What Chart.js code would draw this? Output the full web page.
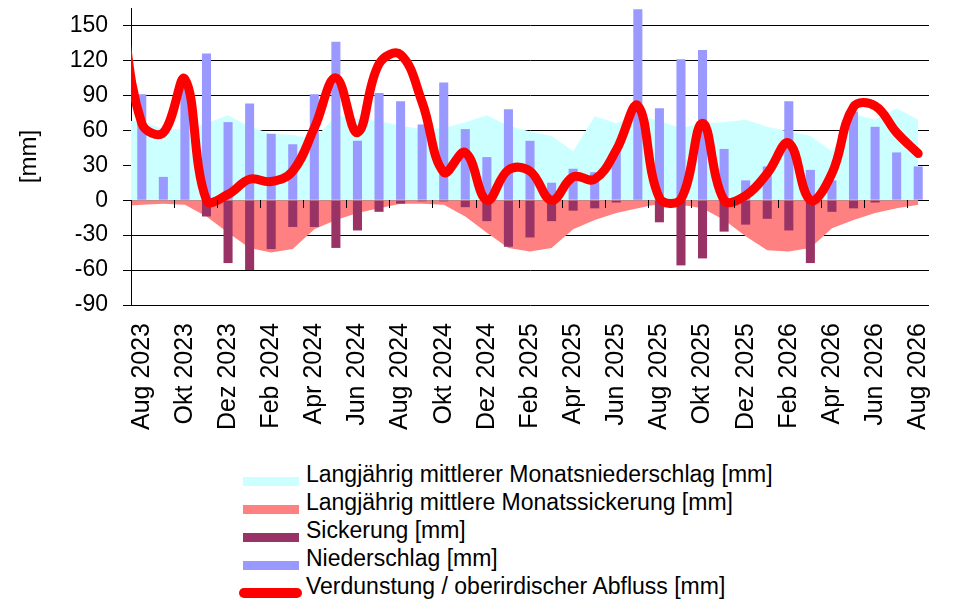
<!DOCTYPE html>
<html lang="de">
<head>
<meta charset="utf-8">
<title>Wasserhaushalt</title>
<script src="https://cdn.jsdelivr.net/npm/chart.js@4.4.1/dist/chart.umd.min.js"></script>
<style>
  html, body { margin: 0; padding: 0; background: #fff; }
  #wrap { position: relative; width: 961px; height: 610px; font-family: "Liberation Sans", Arial, sans-serif; }
  #plot { position: absolute; left: 0; top: 0; width: 961px; height: 460px; }
  #legend { position: absolute; left: 239px; top: 460px; }
  .row { display: flex; align-items: flex-start; height: 28px; }
  .sw { width: 67px; flex: none; }
  .sw span { display: block; }
  .lbl { font-size: 23px; line-height: 28px; color: #000; white-space: nowrap; }
</style>
</head>
<body>
<div id="wrap">
  <div id="plot"><canvas id="chart"></canvas></div>
  <div id="legend"></div>
</div>
<script>
// Monthly categories. "Jul 2023" sits left of the axis start, only the
// curve running in from it is visible (clipped at the y axis).
const MONTHS = [
  "Jul 2023", "Aug 2023", "Sep 2023", "Okt 2023", "Nov 2023", "Dez 2023",
  "Jan 2024", "Feb 2024", "Mär 2024", "Apr 2024", "Mai 2024", "Jun 2024",
  "Jul 2024", "Aug 2024", "Sep 2024", "Okt 2024", "Nov 2024", "Dez 2024",
  "Jan 2025", "Feb 2025", "Mär 2025", "Apr 2025", "Mai 2025", "Jun 2025",
  "Jul 2025", "Aug 2025", "Sep 2025", "Okt 2025", "Nov 2025", "Dez 2025",
  "Jan 2026", "Feb 2026", "Mär 2026", "Apr 2026", "Mai 2026", "Jun 2026",
  "Jul 2026", "Aug 2026"
];
const FIRST_MONTH = "Aug 2023";
const Y_MIN = -90;
const Y_MAX = 165;
const Y_TICKS = [-90, -60, -30, 0, 30, 60, 90, 120, 150];

const MEAN_PRECIP = [68, 68, 61, 61, 66, 73, 63, 57, 56, 52, 73, 70, 68, 64, 61, 62, 67, 73, 64, 59,
  55, 42, 72, 66, 73, 68, 62, 66, 67, 69, 63, 59, 55, 42, 74, 69, 79, 69];
const MEAN_SEEPAGE = [-5, -4, -3, -4, -14, -28, -41, -45, -42, -25, -17, -11, -7, -3, -3, -4, -14, -28, -41, -44,
  -41, -25, -17, -11, -7, -3, -4, -7, -17, -31, -43, -44, -41, -24, -17, -11, -7, -4];
const SEEPAGE = [null, 0, 0, 0, -14, -54, -60, -42, -23, -23, -41, -26, -10, -3, -1, -1, -6, -18, -40, -32,
  -18, -9, -7, -2, 0, -19, -56, -50, -27, -21, -16, -26, -54, -10, -7, -2, 0, 0];
const PRECIP = [null, 91, 20, 98, 126, 67, 83, 57, 48, 91, 136, 51, 92, 85, 65, 101, 61, 37, 78, 51,
  15, 27, 24, 42, 164, 79, 121, 129, 44, 17, 29, 85, 26, 17, 76, 63, 41, 29];
const EVAP_RUNOFF = [172, 66, 58, 104, 0, 5, 18, 16, 25, 62, 105, 58, 117, 125, 84, 24, 41, 0, 26, 25,
  0, 20, 18, 43, 81, 2, 1, 66, 0, 4, 23, 49, 0, 23, 80, 81, 58, 40];

Chart.defaults.font.family = '"Liberation Sans", Arial, sans-serif';
Chart.defaults.color = "#000";

const chart = new Chart(document.getElementById("chart"), {
  data: {
    labels: MONTHS,
    datasets: [
      { type: "line", label: "Langjährig mittlerer Monatsniederschlag [mm]", data: MEAN_PRECIP,
        backgroundColor: "#CCFFFF", borderWidth: 0, pointRadius: 0, fill: "origin", tension: 0, clip: 0, order: 3, xAxisID: "x" },
      { type: "line", label: "Langjährig mittlere Monatssickerung [mm]", data: MEAN_SEEPAGE,
        backgroundColor: "#FF8080", borderWidth: 0, pointRadius: 0, fill: "origin", tension: 0, clip: 0, order: 3, xAxisID: "x" },
      { type: "bar", label: "Sickerung [mm]", data: SEEPAGE, backgroundColor: "#993366",
        stack: "b", barPercentage: 0.42, categoryPercentage: 1, order: 2, xAxisID: "x" },
      { type: "bar", label: "Niederschlag [mm]", data: PRECIP, backgroundColor: "#9999FF",
        stack: "b", barPercentage: 0.42, categoryPercentage: 1, order: 2, xAxisID: "x" },
      { type: "line", label: "Verdunstung / oberirdischer Abfluss [mm]", data: EVAP_RUNOFF,
        borderColor: "#FF0000", backgroundColor: "#FF0000", borderWidth: 9, borderCapStyle: "round",
        borderJoinStyle: "round", pointRadius: 0, fill: false, tension: 0.4, clip: 0, order: 1, xAxisID: "x" },
    ],
  },
  options: {
    responsive: true,
    maintainAspectRatio: false,
    animation: false,
    layout: { padding: { top: 8, right: 32, bottom: 0, left: 0 } },
    plugins: { legend: { display: false }, tooltip: { enabled: false } },
    scales: {
      x: {
        type: "category",
        min: FIRST_MONTH,
        offset: true,
        stacked: true,
        grid: { display: false, drawTicks: false },
        border: { display: false },
        ticks: {
          autoSkip: false, minRotation: 90, maxRotation: 90, padding: 18,
          font: { size: 25 },
          callback: function (value, index) { return index % 2 === 0 ? this.getLabelForValue(value) : ""; },
        },
        afterFit: (s) => { s.height = 155; s.paddingLeft = 0; s.paddingRight = 0; },
      },
      y: {
        type: "linear",
        min: Y_MIN,
        max: Y_MAX,
        afterBuildTicks: (s) => { s.ticks = Y_TICKS.map((v) => ({ value: v })); },
        grid: { color: "#000", lineWidth: 1, drawTicks: true, tickLength: 8 },
        border: { display: true, color: "#000", width: 1 },
        ticks: { font: { size: 23 }, padding: 15 },
        title: { display: true, text: "[mm]", font: { size: 24 }, padding: { top: 15, bottom: 0 } },
        afterFit: (s) => { s.width = 131; s.paddingTop = 0; s.paddingBottom = 0; },
      },
      // tick marks hanging below the zero line, every second month boundary
      xt: {
        type: "category",
        axis: "x",
        position: { y: 0 },
        min: FIRST_MONTH,
        offset: true,
        grid: {
          offset: true, drawOnChartArea: false, drawTicks: true, tickLength: 8, z: 1,
          color: (ctx) => (ctx.index % 2 === 0 ? "#000" : "rgba(0,0,0,0)"),
        },
        border: { display: false },
        ticks: { display: false, autoSkip: false },
      },
    },
  },
});

// one legend entry per row, built from the datasets
function buildLegend(ch) {
  const box = document.getElementById("legend");
  box.innerHTML = "";
  ch.data.datasets.forEach((ds) => {
    const row = document.createElement("div");
    row.className = "row";
    const sw = document.createElement("div");
    sw.className = "sw";
    const mark = document.createElement("span");
    if (ds.type === "line" && !ds.fill) {
      mark.style.cssText = "width:63px;height:10px;margin-top:16px;border-radius:5px;background:" + ds.borderColor;
    } else {
      mark.style.cssText = "width:56px;height:9px;margin:17px 0 0 4px;background:" + ds.backgroundColor;
    }
    sw.appendChild(mark);
    const txt = document.createElement("div");
    txt.className = "lbl";
    txt.textContent = ds.label;
    row.appendChild(sw);
    row.appendChild(txt);
    box.appendChild(row);
  });
}
buildLegend(chart);
</script>
</body>
</html>
